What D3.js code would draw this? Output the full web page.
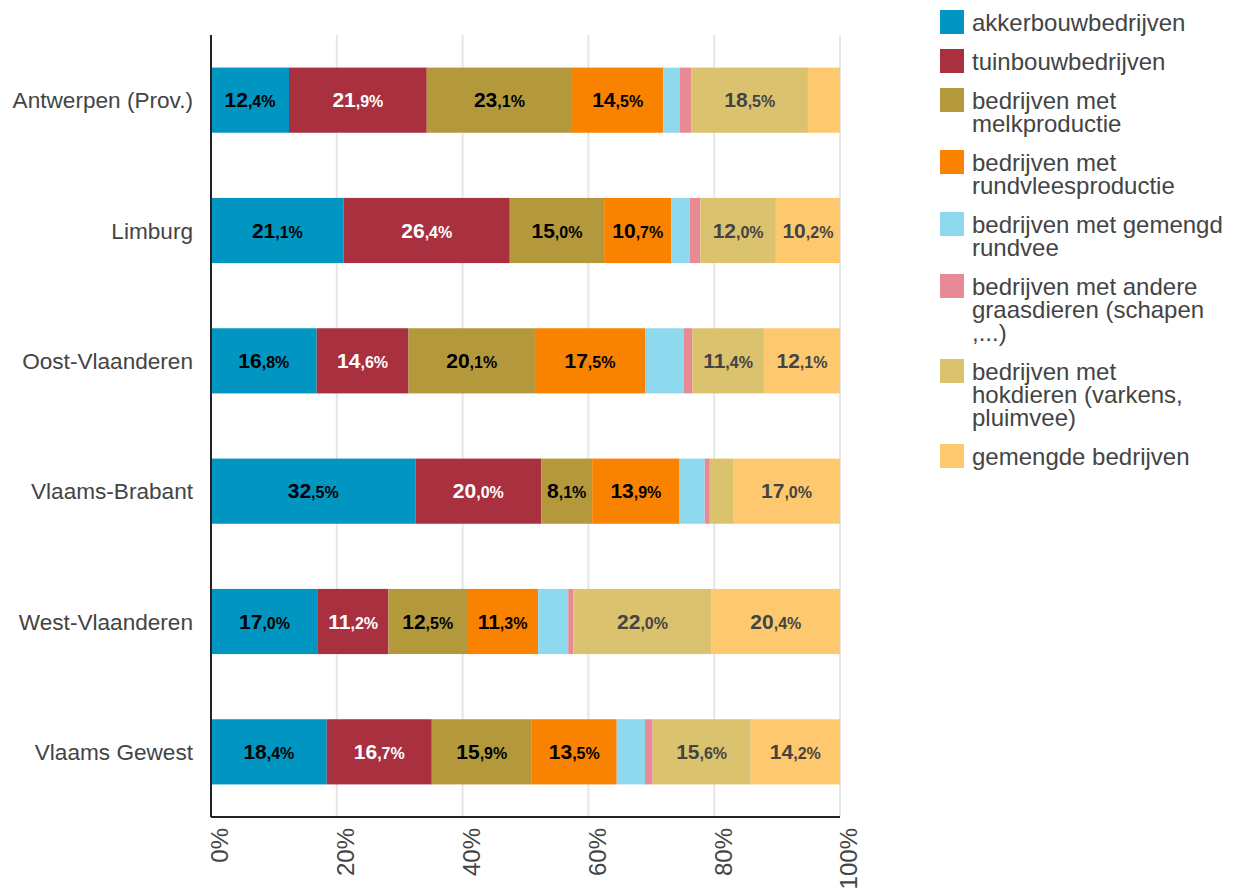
<!DOCTYPE html>
<html>
<head>
<meta charset="utf-8">
<script src="https://cdn.jsdelivr.net/npm/d3@7"></script>
<style>
  html, body { margin: 0; padding: 0; background: #fff; }
  svg { display: block; font-family: "Liberation Sans", Arial, Helvetica, sans-serif; }
</style>
</head>
<body>
<svg id="chart" width="1237" height="890"></svg>
<script>
// ---- data ----
const categories = ["Antwerpen (Prov.)", "Limburg", "Oost-Vlaanderen", "Vlaams-Brabant", "West-Vlaanderen", "Vlaams Gewest"];
const seriesNames = [
  "akkerbouwbedrijven",
  "tuinbouwbedrijven",
  "bedrijven met\nmelkproductie",
  "bedrijven met\nrundvleesproductie",
  "bedrijven met gemengd\nrundvee",
  "bedrijven met andere\ngraasdieren (schapen\n,...)",
  "bedrijven met\nhokdieren (varkens,\npluimvee)",
  "gemengde bedrijven"
];
const seriesColors = ["#0096C1", "#A8303F", "#B3993C", "#F98200", "#8FD9EF", "#E88A95", "#DBC26E", "#FEC96E"];
const labelColors = ["#000", "#fff", "#000", "#000", "#000", "#000", "#444", "#444"];
const akkerbouw = [12.4, 21.1, 16.8, 32.5, 17.0, 18.4];
const tuinbouw = [21.9, 26.4, 14.6, 20.0, 11.2, 16.7];
const melk = [23.1, 15.0, 20.1, 8.1, 12.5, 15.9];
const rundvlees = [14.5, 10.7, 17.5, 13.9, 11.3, 13.5];
const gemengdRundvee = [2.6, 2.9, 6.2, 4.0, 4.8, 4.5];
const andereGraasdieren = [1.9, 1.7, 1.3, 0.8, 0.8, 1.2];
const hokdieren = [18.5, 12.0, 11.4, 3.7, 22.0, 15.6];
const gemengde = [5.1, 10.2, 12.1, 17.0, 20.4, 14.2];
const seriesValues = [akkerbouw, tuinbouw, melk, rundvlees, gemengdRundvee, andereGraasdieren, hokdieren, gemengde];
const xTicks = [0, 20, 40, 60, 80, 100];

// ---- layout ----
const svg = d3.select("#chart");
const mLeft = 211, mRight = 840, mTop = 35, mBottom = 817;
const x = d3.scaleLinear().domain([0, 100]).range([mLeft, mRight]);
const y = d3.scaleBand().domain(categories).range([mTop, mBottom]).paddingInner(0.5).paddingOuter(0.25);

const rows = categories.map((c, i) => {
  const o = { cat: c };
  seriesValues.forEach((arr, s) => o["s" + s] = arr[i]);
  return o;
});
const keys = seriesValues.map((_, s) => "s" + s);
const stacked = d3.stack().keys(keys)(rows);

// grid
svg.append("g").selectAll("line").data(xTicks.slice(1)).join("line")
  .attr("x1", d => x(d)).attr("x2", d => x(d))
  .attr("y1", mTop).attr("y2", mBottom)
  .attr("stroke", "#e6e6e6").attr("stroke-width", 2);

// bars
const gSeries = svg.append("g").selectAll("g").data(stacked).join("g")
  .attr("fill", (d, i) => seriesColors[i]);
gSeries.selectAll("rect").data(d => d).join("rect")
  .attr("x", d => x(d[0]))
  .attr("width", d => x(d[1]) - x(d[0]))
  .attr("y", d => y(d.data.cat))
  .attr("height", y.bandwidth());

// labels
stacked.forEach((ser, si) => {
  ser.forEach(d => {
    const v = d[1] - d[0];
    if (v < 7) return;
    const val = seriesValues[si][categories.indexOf(d.data.cat)];
    const parts = val.toFixed(1).split(".");
    const t = svg.append("text")
      .attr("x", (x(d[0]) + x(d[1])) / 2)
      .attr("y", y(d.data.cat) + y.bandwidth() / 2 + 7)
      .attr("text-anchor", "middle")
      .attr("font-weight", "bold")
      .attr("fill", labelColors[si]);
    t.append("tspan").attr("font-size", 21).text(parts[0]);
    t.append("tspan").attr("font-size", 16).text("," + parts[1] + "%");
  });
});

// axes lines
svg.append("line").attr("x1", mLeft).attr("x2", mLeft).attr("y1", mTop).attr("y2", mBottom)
  .attr("stroke", "#222").attr("stroke-width", 2);
svg.append("line").attr("x1", mLeft).attr("x2", mRight).attr("y1", mBottom).attr("y2", mBottom)
  .attr("stroke", "#222").attr("stroke-width", 2);

// category labels
svg.append("g").selectAll("text").data(categories).join("text")
  .attr("x", 193).attr("y", d => y(d) + y.bandwidth() / 2 + 8)
  .attr("text-anchor", "end").attr("font-size", 22.6).attr("fill", "#444")
  .text(d => d);

// x tick labels
svg.append("g").selectAll("text").data(xTicks).join("text")
  .attr("transform", d => `translate(${x(d) + 9},828) rotate(-90)`)
  .attr("dy", "0.35em")
  .attr("text-anchor", "end").attr("font-size", 24).attr("fill", "#444")
  .text(d => d + "%");

// legend
let ly = 31;
const legend = svg.append("g");
seriesNames.forEach((name, i) => {
  const lines = name.split("\n");
  legend.append("rect").attr("x", 940).attr("y", ly - 21).attr("width", 24).attr("height", 24)
    .attr("fill", seriesColors[i]);
  const t = legend.append("text").attr("x", 972).attr("y", ly)
    .attr("font-size", 24).attr("fill", "#444");
  lines.forEach((ln, k) => t.append("tspan").attr("x", 972).attr("dy", k === 0 ? 0 : 23).text(ln));
  ly += 16 + lines.length * 23;
});
</script>
</body>
</html>
